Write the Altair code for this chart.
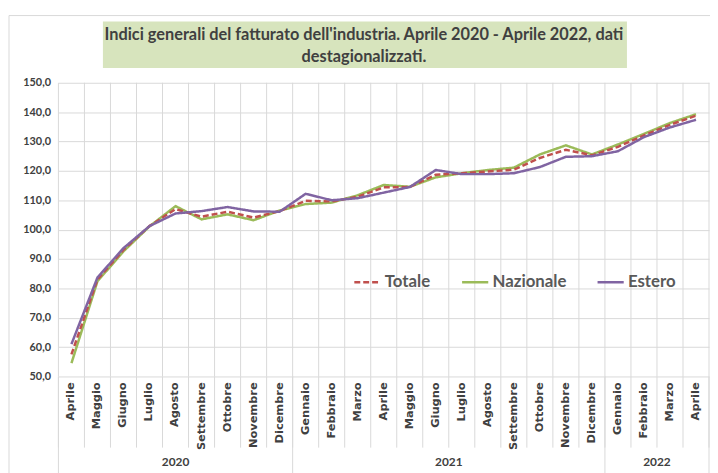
import altair as alt
import pandas as pd

months = ["Aprile", "Maggio", "Giugno", "Luglio", "Agosto", "Settembre", "Ottobre",
          "Novembre", "Dicembre", "Gennaio", "Febbraio", "Marzo", "Aprile", "Maggio",
          "Giugno", "Luglio", "Agosto", "Settembre", "Ottobre", "Novembre", "Dicembre",
          "Gennaio", "Febbraio", "Marzo", "Aprile"]
years = [2020, 2020, 2020, 2020, 2020, 2020, 2020, 2020, 2020,
         2021, 2021, 2021, 2021, 2021, 2021, 2021, 2021, 2021, 2021, 2021, 2021,
         2022, 2022, 2022, 2022]

totale = [57.5, 83.0, 93.1, 101.2, 107.0, 104.4, 106.1, 104.1, 106.3, 109.8, 109.6, 111.2,
          114.4, 114.5, 118.7, 119.2, 119.8, 120.4, 124.4, 127.2, 125.3, 128.2, 132.1, 135.7, 138.8]
nazionale = [54.5, 82.4, 92.6, 101.1, 108.0, 103.5, 105.2, 103.2, 106.5, 108.7, 109.2, 111.7,
             115.2, 114.6, 117.8, 119.2, 120.3, 121.1, 125.6, 128.7, 125.6, 129.0, 132.6, 136.3, 139.3]
estero = [61.0, 83.7, 93.7, 101.2, 105.5, 106.3, 107.7, 106.2, 106.1, 112.2, 110.0, 110.7,
          112.6, 114.5, 120.3, 118.9, 118.9, 119.2, 121.3, 124.8, 125.0, 126.7, 131.5, 134.8, 137.4]

series_order = ["Totale", "Nazionale", "Estero"]
series_colors = ["#c0504d", "#9bbb59", "#8064a2"]
series_dash = [[6, 3], [1, 0], [1, 0]]

title_lines = ["Indici generali del fatturato dell'industria. Aprile 2020 - Aprile 2022, dati",
               "destagionalizzati."]

W, H = 658, 297
GRID = "#d9d9d9"
TXT = "#404040"

rows = []
for name, vals in [("Nazionale", nazionale), ("Totale", totale), ("Estero", estero)]:
    for i, v in enumerate(vals):
        rows.append({"i": i, "serie": name, "valore": v})
df = pd.DataFrame(rows)

n = len(months)
x_scale = alt.Scale(domain=[-0.5, n - 0.5], nice=False, zero=False)
y_scale = alt.Scale(domain=[50, 150], nice=False, zero=False)

legend = alt.Legend(orient="none", legendX=298, legendY=187, direction="horizontal", title=None,
                    symbolType="stroke", symbolStrokeWidth=2.5, symbolSize=700,
                    labelFont="Lato", labelFontSize=17, labelFontWeight="bold",
                    labelColor="#595959", labelOffset=3, columnPadding=26, padding=0)

lines = alt.Chart(df).mark_line(strokeWidth=2.5).encode(
    x=alt.X("i:Q", scale=x_scale, axis=None),
    y=alt.Y("valore:Q", scale=y_scale,
            axis=alt.Axis(values=list(range(50, 151, 10)),
                          labelExpr="replace(format(datum.value,'.1f'),'.',',')",
                          grid=True, gridColor=GRID, domain=False, ticks=False, labelPadding=8,
                          title=None, labelFont="Lato", labelFontWeight="bold", labelFontSize=11,
                          labelColor=TXT)),
    color=alt.Color("serie:N", scale=alt.Scale(domain=series_order, range=series_colors), legend=legend),
    strokeDash=alt.StrokeDash("serie:N", scale=alt.Scale(domain=series_order, range=series_dash), legend=legend),
)

bounds = pd.DataFrame({"b": [k - 0.5 for k in range(n + 1)]})
vgrid = alt.Chart(bounds).mark_rule(color=GRID, strokeWidth=1).encode(
    x=alt.X("b:Q", scale=x_scale, axis=None), y=alt.value(0), y2=alt.value(H))
mticks = alt.Chart(bounds).mark_rule(color=GRID, strokeWidth=1).encode(
    x=alt.X("b:Q", scale=x_scale, axis=None), y=alt.value(H), y2=alt.value(H + 72))

mlabs = alt.Chart(pd.DataFrame({"i": list(range(n)), "m": months})).mark_text(
    font="DejaVu Sans", fontWeight="bold", fontSize=11.5, color=TXT, angle=270,
    align="right", baseline="middle").encode(
    x=alt.X("i:Q", scale=x_scale, axis=None), y=alt.value(H + 6), text="m:N")

ybounds = [-0.5] + [k - 0.5 for k in range(1, n) if years[k] != years[k - 1]] + [n - 0.5]
ysep = alt.Chart(pd.DataFrame({"b": ybounds})).mark_rule(color=GRID, strokeWidth=1).encode(
    x=alt.X("b:Q", scale=x_scale, axis=None), y=alt.value(H), y2=alt.value(H + 100))

ylab_rows = []
for yv in sorted(set(years)):
    pos = [k for k in range(n) if years[k] == yv]
    ylab_rows.append({"anno": str(yv), "pos": sum(pos) / len(pos)})
ylabs = alt.Chart(pd.DataFrame(ylab_rows)).mark_text(
    font="Lato", fontWeight="bold", fontSize=12, color=TXT, baseline="middle").encode(
    x=alt.X("pos:Q", scale=x_scale, axis=None), y=alt.value(H + 87), text="anno:N")

one = pd.DataFrame({"a": [0]})
frame = alt.Chart(one).mark_rect(filled=False, stroke=GRID, strokeWidth=1).encode(
    x=alt.value(-50), x2=alt.value(W + 20), y=alt.value(-68), y2=alt.value(H + 120))
tbox = alt.Chart(one).mark_rect(color="#d7e4bd").encode(
    x=alt.value(45), x2=alt.value(575), y=alt.value(-62), y2=alt.value(-15))
t1 = alt.Chart(one).mark_text(font="Lato", fontWeight="bold", fontSize=16.5, color=TXT,
                              baseline="middle").encode(
    x=alt.value(309), y=alt.value(-48), text=alt.value(title_lines[0]))
t2 = alt.Chart(one).mark_text(font="Lato", fontWeight="bold", fontSize=16.5, color=TXT,
                              baseline="middle").encode(
    x=alt.value(309), y=alt.value(-26), text=alt.value(title_lines[1]))

chart = alt.layer(frame, tbox, t1, t2, vgrid, mticks, ysep, mlabs, ylabs, lines).properties(
    width=W, height=H, autosize="none",
    padding={"left": 51, "top": 73, "right": 1, "bottom": 95},
    background="white",
).configure_view(stroke=None)

chart.save("out.html", embed_options={"renderer": "svg", "actions": False})
